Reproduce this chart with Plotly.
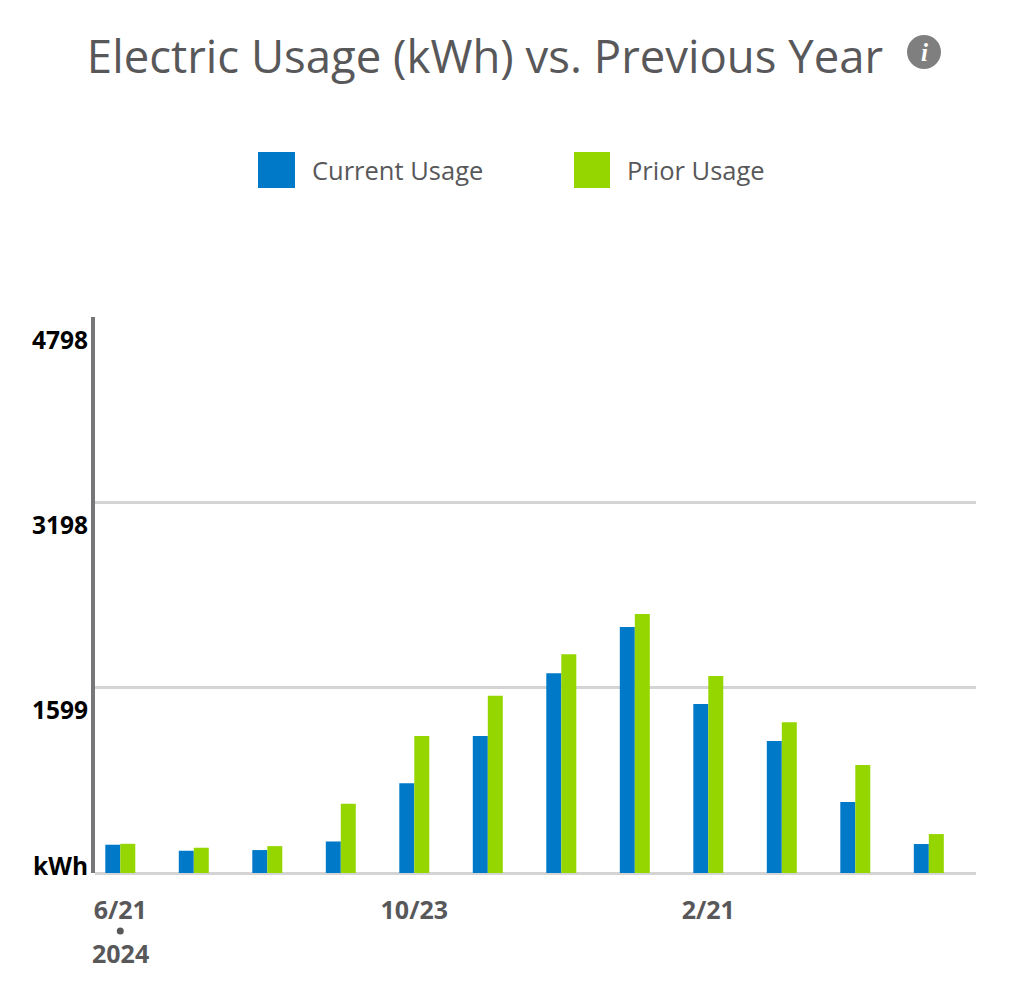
import plotly.graph_objects as go

## Billing periods and usage (kWh)
periods = ['6/21', '7/23', '8/22', '9/20', '10/23', '11/21',
		   '12/20', '1/22', '2/21', '3/24', '4/22', '5/21']
current_usage = [244, 192, 198, 272, 775, 1183, 1723, 2122, 1459, 1140, 612, 250]
prior_usage = [252, 218, 232, 597, 1183, 1530, 1887, 2234, 1700, 1301, 933, 336]

x_tick_vals = ['6/21', '10/23', '2/21']
y_tick_vals = [0, 1599, 3198, 4798]
y_tick_text = ['kWh', '1599', '3198', '4798']

BLUE = '#0079c9'
GREEN = '#95d600'
GREY_TXT = '#58585a'
FONT = 'Open Sans'

# page has an 8px body margin, so the figure is a bit smaller than the window
OFF = 8
W, H = 1024 - OFF * 2, 995 - OFF * 2
# plot area in window pixels
PX0, PX1, PY0, PY1 = 95, 976, 317, 873
L, R, T, B = PX0 - OFF, W + OFF - PX1, PY0 - OFF, H + OFF - PY1

# window pixel -> paper helpers for the decorations outside the plot area
def px_x(v):
	return (v - PX0) / (PX1 - PX0)

def px_y(v):
	return (PY1 - v) / (PY1 - PY0)

fig = go.Figure()
fig.add_trace(go.Bar(x=periods, y=current_usage, name='Current Usage',
					 marker=dict(color=BLUE, line=dict(width=0))))
fig.add_trace(go.Bar(x=periods, y=prior_usage, name='Prior Usage',
					 marker=dict(color=GREEN, line=dict(width=0))))

annotations = []
# y labels sit under their gridline, "kWh" sits on the baseline
for v, t in zip(y_tick_vals, y_tick_text):
	annotations.append(dict(x=0, xref='paper', y=v, yref='y', text=t,
							xanchor='right', yanchor='middle', xshift=-5,
							yshift=8 if v == 0 else -22, showarrow=False,
							font=dict(family=FONT, size=24.5, color='black', weight=700)))
# year under the first period
annotations.append(dict(x=periods[0], xref='x', y=px_y(953), yref='paper',
						text='2024', showarrow=False, yanchor='middle',
						font=dict(family=FONT, size=25, color=GREY_TXT, weight=700)))
# legend drawn by hand (big square swatches)
annotations.append(dict(x=px_x(310), xref='paper', y=px_y(170), yref='paper',
						text='Current Usage', xanchor='left', yanchor='middle',
						showarrow=False, font=dict(family=FONT, size=25.5, color=GREY_TXT)))
annotations.append(dict(x=px_x(625), xref='paper', y=px_y(170), yref='paper',
						text='Prior Usage', xanchor='left', yanchor='middle',
						showarrow=False, font=dict(family=FONT, size=25.5, color=GREY_TXT)))
# info icon
annotations.append(dict(x=px_x(924), xref='paper', y=px_y(52), yref='paper',
						text='<b><i>i</i></b>', xanchor='center', yanchor='middle',
						showarrow=False,
						font=dict(family='Liberation Serif', size=25, color='white')))

shapes = [
	dict(type='rect', xref='paper', yref='paper', x0=px_x(258), x1=px_x(295),
		 y0=px_y(188), y1=px_y(152), fillcolor=BLUE, line=dict(width=0)),
	dict(type='rect', xref='paper', yref='paper', x0=px_x(574), x1=px_x(610),
		 y0=px_y(188), y1=px_y(152), fillcolor=GREEN, line=dict(width=0)),
	dict(type='circle', xref='paper', yref='paper', x0=px_x(907), x1=px_x(941),
		 y0=px_y(69), y1=px_y(35), fillcolor='#7f7f7f', line=dict(width=0)),
	# bullet between the first period and its year
	dict(type='circle', xref='x', yref='paper', xsizemode='pixel', xanchor=0,
		 x0=-3.5, x1=3.5, y0=px_y(934.5), y1=px_y(927.5),
		 fillcolor=GREY_TXT, line=dict(width=0)),
]

fig.update_layout(
	width=W, height=H,
	margin=dict(l=L, r=R, t=T, b=B),
	paper_bgcolor='white', plot_bgcolor='white',
	barmode='group', bargap=0.592, bargroupgap=0,
	showlegend=False,
	title=dict(text='Electric Usage (kWh) vs. Previous Year',
			   x=(485 - OFF) / W, xanchor='center', y=1 - (57 - OFF) / H, yanchor='middle',
			   font=dict(family=FONT, size=45.5, color=GREY_TXT)),
	annotations=annotations,
	shapes=shapes,
)
fig.update_xaxes(type='category', range=[-0.344, 11.642],
				 tickvals=x_tick_vals, ticktext=x_tick_vals,
				 ticks='', showgrid=False, showline=False, zeroline=False,
				 ticklabelstandoff=20,
				 tickfont=dict(family=FONT, size=25, color=GREY_TXT, weight=700))
fig.update_yaxes(range=[0, 4798], tickvals=y_tick_vals, showticklabels=False,
				 showgrid=True, gridcolor='#d4d4d4', gridwidth=3,
				 zeroline=True, zerolinecolor='#d4d4d4', zerolinewidth=3,
				 showline=True, linecolor='#77777a', linewidth=4)

fig.write_html('out.html')
